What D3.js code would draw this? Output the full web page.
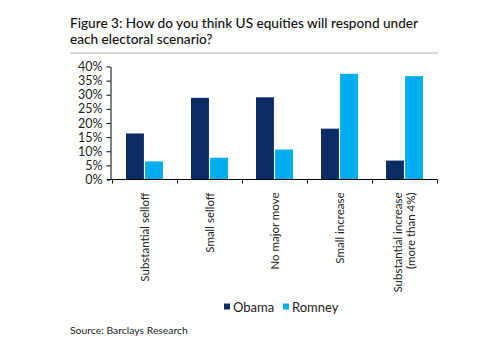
<!DOCTYPE html>
<html>
<head>
<meta charset="utf-8">
<script src="https://cdn.jsdelivr.net/npm/d3@7"></script>
<style>
html,body{margin:0;padding:0;background:#fff;}
svg text{font-family:Lato,"Open Sans",sans-serif;}
</style>
</head>
<body>
<svg id="chart" width="500" height="350"></svg>
<script>
const categories = [["Substantial selloff"],["Small selloff"],["No major move"],["Small increase"],["Substantial increase","(more than 4%)"]];
const seriesNames = ["Obama","Romney"];
const obama = [16.3, 28.9, 29.1, 18.0, 6.7];
const romney = [6.4, 7.7, 10.6, 37.4, 36.6];
const yTicks = [0,5,10,15,20,25,30,35,40];
const colors = ["#0b2d63","#00aeef"];
const titleLines = ["Figure 3: How do you think US equities will respond under","each electoral scenario?"];
const sourceText = "Source: Barclays Research";

const svg = d3.select("#chart");

function fit(sel, target){
  const n = sel.node();
  let fs = parseFloat(sel.attr("font-size"));
  const w = n.getComputedTextLength();
  sel.attr("font-size", (fs*target/w).toFixed(2));
}

// title
const t1 = svg.append("text").attr("x",70).attr("y",28).attr("font-size",14).attr("fill","#111").attr("font-weight",500).text(titleLines[0]);
fit(t1, 348);
const fs = t1.attr("font-size");
svg.append("text").attr("x",70).attr("y",44).attr("font-size",fs).attr("fill","#111").attr("font-weight",500).text(titleLines[1]);
svg.append("line").attr("x1",70).attr("x2",438).attr("y1",53).attr("y2",53).attr("stroke","#b0b0b0").attr("stroke-width",1);

const x0 = d3.scaleBand().domain(d3.range(categories.length)).range([112,437]).paddingInner(0).paddingOuter(0);
const x1 = d3.scaleBand().domain(seriesNames).range([14, 51]).paddingInner(0.06);
const y = d3.scaleLinear().domain([0,40]).range([179.5,66.5]);

// y axis
const yAxis = d3.axisLeft(y).tickValues(yTicks).tickFormat(d=>d+"%").tickSize(4).tickSizeOuter(0);
const gy = svg.append("g").attr("transform","translate(110.5,0)").call(yAxis);
gy.select(".domain").attr("stroke","#000");
gy.selectAll(".tick line").attr("stroke","#000");
gy.selectAll(".tick text").attr("font-size",12.5).attr("fill","#222").attr("font-family","Lato,sans-serif").attr("x",-8);

// bars
const g = svg.append("g");
const data = categories.map((c,i)=>({i, vals:[obama[i], romney[i]]}));
const grp = g.selectAll("g.cat").data(data).join("g").attr("transform",d=>`translate(${x0(d.i)},0)`);
grp.selectAll("rect").data(d=>d.vals.map((v,k)=>({k,v}))).join("rect")
  .attr("x",d=>x1(seriesNames[d.k]))
  .attr("width",x1.bandwidth())
  .attr("y",d=>y(d.v))
  .attr("height",d=>y(0)-y(d.v))
  .attr("fill",d=>colors[d.k]);

// x axis
const xb = d3.scaleLinear().domain([0,categories.length]).range([112,437]);
const xAxis = d3.axisBottom(xb).tickValues(d3.range(categories.length+1)).tickFormat("").tickSize(4).tickSizeOuter(0);
const gx = svg.append("g").attr("transform",`translate(0,${y(0)})`).call(xAxis);
gx.select(".domain").attr("stroke","#000").attr("d","M107,0H437");
gx.selectAll(".tick line").attr("stroke","#000");

// x labels (rotated)
categories.forEach((lines,i)=>{
  const cx = x0(i)+x0.bandwidth()/2;
  const n = lines.length;
  lines.forEach((ln,j)=>{
    const off = (j-(n-1)/2)*13;
    svg.append("text")
      .attr("transform",`translate(${cx+off+4},${y(0)+13}) rotate(-90)`)
      .attr("text-anchor","end")
      .attr("font-size",11.5).attr("fill","#222")
      .text(ln);
  });
});

// legend
const leg = svg.append("g");
const legX = [224, 283];
seriesNames.forEach((s,k)=>{
  leg.append("rect").attr("x",legX[k]).attr("y",303.5).attr("width",6).attr("height",6).attr("fill",colors[k]);
  leg.append("text").attr("x",legX[k]+9).attr("y",311.5).attr("font-size",13).attr("fill","#222").text(s);
});

// source
const st = svg.append("text").attr("x",70).attr("y",334).attr("font-size",12).attr("fill","#222").text(sourceText);
fit(st, 118);
</script>
</body>
</html>
